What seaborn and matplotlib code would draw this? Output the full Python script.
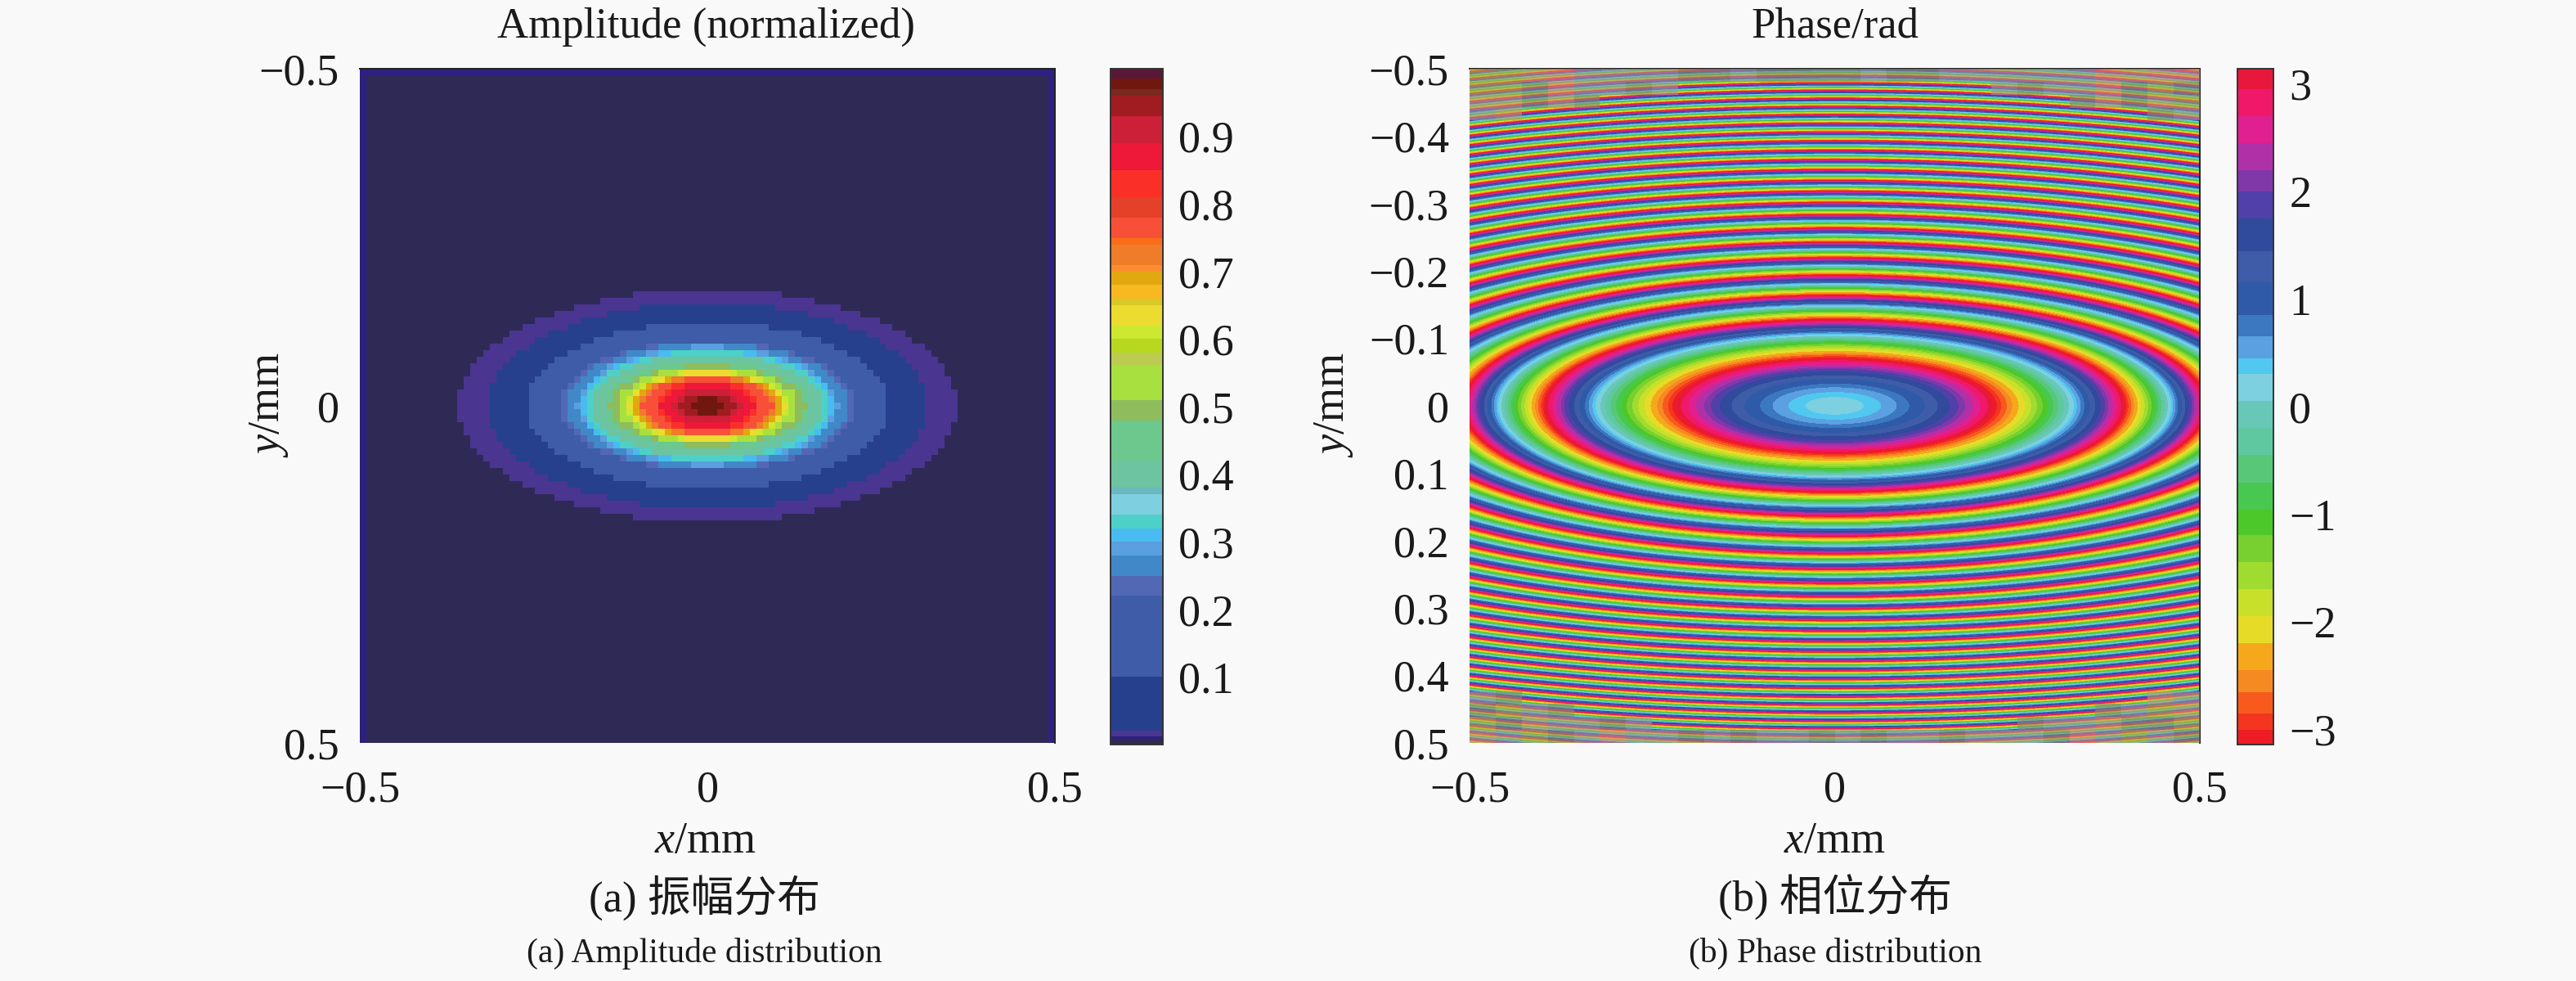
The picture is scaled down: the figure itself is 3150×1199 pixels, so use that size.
#!/usr/bin/env python3
"""Amplitude and phase maps of a focused elliptical beam."""

import matplotlib

matplotlib.use("Agg")

import matplotlib.pyplot as plt
from matplotlib.colors import ListedColormap
import numpy as np
import seaborn as sns

W, H = 3150, 1199
DPI = 200
BACKGROUND = "#F9F9F9"
TEXT = "#1A1A1A"

# contours of the amplitude map, outside to centre
AMP_LEVELS = [0.015, 0.05, 0.15, 0.235, 0.265, 0.29, 0.31, 0.33, 0.40, 0.45, 0.495,
              0.53, 0.61, 0.64, 0.68, 0.73, 0.77, 0.83, 0.87, 0.91, 0.945, 0.985]
AMP_SEMI_X = [0.362, 0.320, 0.263, 0.216, 0.207, 0.189, 0.184, 0.179, 0.169, 0.149, 0.142,
              0.132, 0.122, 0.114, 0.108, 0.102, 0.095, 0.075, 0.067, 0.048, 0.038, 0.019]
AMP_SEMI_Y = [0.174, 0.154, 0.125, 0.096, 0.094, 0.089, 0.085, 0.082, 0.077, 0.067, 0.061,
              0.057, 0.052, 0.051, 0.049, 0.046, 0.042, 0.038, 0.033, 0.028, 0.018, 0.018]
AMP_BACKGROUND = 0.004
AMP_EDGE = 0.010

# y radius (mm, at x = 0) where the phase wraps from +pi to -pi
PHASE_WRAPS = [0.070, 0.128, 0.164, 0.194, 0.220, 0.243, 0.264, 0.284, 0.302, 0.319,
               0.335, 0.351, 0.366, 0.380, 0.394, 0.407, 0.420, 0.433, 0.445, 0.457,
               0.469, 0.480, 0.491, 0.502, 0.512, 0.522, 0.533]
PHASE_CENTRE = 0.2
PHASE_ASPECT = 3.1

# washed-out blocks along the top and bottom edge of the phase map
# 0 none, 1 olive, 2 tan, 3 grey, 4 salmon, 5 grey-green
EDGE_TOP = [
    [1, 1, 2, 4, 3, 3, 3, 3, 5, 5, 3, 5, 5, 5, 5, 3, 5, 5, 3, 3, 3, 3, 3, 3, 4, 2, 4, 4],
    [1, 1, 5, 4, 3, 3, 5, 3, 0, 0, 0, 0, 0, 0, 0, 0, 0, 0, 0, 0, 3, 5, 3, 3, 4, 5, 1, 5],
    [2, 2, 5, 2, 5, 0, 0, 0, 0, 0, 0, 0, 0, 0, 0, 0, 0, 0, 0, 0, 0, 0, 0, 5, 2, 5, 2, 1],
    [3, 2, 0, 0, 0, 0, 0, 0, 0, 0, 0, 0, 0, 0, 0, 0, 0, 0, 0, 0, 0, 0, 0, 0, 0, 0, 5, 3],
]
EDGE_BOTTOM = [
    [3, 5, 0, 0, 0, 0, 0, 0, 0, 0, 0, 0, 0, 0, 0, 0, 0, 0, 0, 0, 0, 0, 0, 0, 0, 0, 2, 3],
    [5, 1, 3, 5, 0, 0, 0, 0, 0, 0, 0, 0, 0, 0, 0, 0, 0, 0, 0, 0, 0, 0, 0, 0, 5, 3, 1, 2],
    [1, 5, 2, 3, 3, 5, 3, 0, 0, 0, 0, 0, 0, 0, 0, 0, 0, 0, 0, 0, 0, 5, 3, 3, 2, 5, 5, 1],
    [2, 3, 1, 5, 3, 4, 3, 3, 5, 3, 5, 3, 3, 5, 3, 5, 3, 3, 5, 3, 3, 3, 5, 4, 3, 1, 3, 5],
]
EDGE_TONES = ["#A8A850", "#C09870", "#9A9A98", "#D88878", "#888C70"]

AXIS_TICKS = [-0.5, 0, 0.5]
PHASE_Y_TICKS = [-0.5, -0.4, -0.3, -0.2, -0.1, 0, 0.1, 0.2, 0.3, 0.4, 0.5]
AXIS_TICK_LABELS = ["\u22120.5", "0", "0.5"]
PHASE_Y_LABELS = ["\u22120.5", "\u22120.4", "\u22120.3", "\u22120.2", "\u22120.1", "0",
                  "0.1", "0.2", "0.3", "0.4", "0.5"]
AMP_CBAR_TICKS = [0.1, 0.2, 0.3, 0.4, 0.5, 0.6, 0.7, 0.8, 0.9]
PHASE_CBAR_TICKS = [-3, -2, -1, 0, 1, 2, 3]

# colour bands of the two colourbars: (upper limit, colour)
AMP_BANDS = [
    (0.008, "#2F2A55"), (0.012, "#2E2080"), (0.02, "#4A3590"), (0.10, "#27408E"),
    (0.22, "#3E5CA8"), (0.25, "#5268B4"), (0.28, "#4088C8"), (0.30, "#5A9FE0"),
    (0.32, "#48BCF0"), (0.34, "#4DD0C8"), (0.37, "#7ECFE0"), (0.38, "#6AB8C0"),
    (0.42, "#6CC4A0"), (0.48, "#6CC88C"), (0.51, "#8FBC5C"), (0.56, "#A8E040"),
    (0.58, "#BCCC50"), (0.60, "#B8D820"), (0.62, "#CCE830"), (0.65, "#ECDC30"),
    (0.66, "#D8C828"), (0.68, "#F8B820"), (0.70, "#E2A810"), (0.71, "#FC8C30"),
    (0.74, "#EE7C28"), (0.75, "#FA6C18"), (0.78, "#F85038"), (0.81, "#E4402A"),
    (0.85, "#FA3028"), (0.89, "#EE1838"), (0.93, "#CC2038"), (0.96, "#A01C20"),
    (0.97, "#7A2820"), (0.985, "#701810"), (1.00, "#5A1838"),
]
PHASE_BANDS = [
    (-3.0, "#EE1C25"), (-2.85, "#F4351F"), (-2.65, "#F85A1E"), (-2.45, "#F68A22"),
    (-2.2, "#F5A81C"), (-1.95, "#E6DC28"), (-1.7, "#C8E02A"), (-1.45, "#A0DC30"),
    (-1.2, "#78D030"), (-0.95, "#4CC82A"), (-0.7, "#48C850"), (-0.45, "#58C878"),
    (-0.2, "#60C8A0"), (0.05, "#68C8B8"), (0.3, "#7CD0E0"), (0.45, "#50C8F0"),
    (0.65, "#5BA0E0"), (0.85, "#3C78C0"), (1.15, "#2F5AA8"), (1.45, "#3F5CA8"),
    (1.75, "#304A9C"), (2.0, "#5040A8"), (2.2, "#8038A8"), (2.45, "#B030A8"),
    (2.7, "#E02090"), (2.95, "#F01868"), (3.1416, "#E8183C"),
]


def band_cmap(bands, vmin, vmax, steps=500):
    """Turn (upper limit, colour) bands into a stepped colormap."""
    limits = [b[0] for b in bands]
    centres = vmin + (np.arange(steps) + 0.5) * (vmax - vmin) / steps
    index = np.minimum(np.searchsorted(limits, centres), len(bands) - 1)
    return ListedColormap([bands[i][1] for i in index])


def amplitude_field(rows=103, cols=107):
    x = np.linspace(-0.5, 0.5, cols)
    y = np.linspace(-0.5, 0.5, rows)
    xx, yy = np.meshgrid(x, y)
    field = np.full(xx.shape, AMP_BACKGROUND)
    for level, a, b in zip(AMP_LEVELS, AMP_SEMI_X, AMP_SEMI_Y):
        field[(xx / a) ** 2 + (yy / b) ** 2 <= 1] = level
    field[0, :] = field[:, 0] = field[:, -1] = AMP_EDGE
    return field


def phase_field(rows=824, cols=893):
    x = np.linspace(-0.5, 0.5, cols)
    y = np.linspace(-0.5, 0.5, rows)
    xx, yy = np.meshgrid(x, y)
    rho2 = (xx / PHASE_ASPECT) ** 2 + yy**2
    wraps2 = np.array(PHASE_WRAPS) ** 2
    ring = np.searchsorted(wraps2, rho2)
    inner = np.concatenate([[0.0], wraps2])[ring]
    outer = wraps2[np.minimum(ring, len(wraps2) - 1)]
    frac = np.clip((rho2 - inner) / (outer - inner), 0, 1)
    phase = -np.pi + 2 * np.pi * frac
    centre = ring == 0
    phase[centre] = PHASE_CENTRE + (np.pi - PHASE_CENTRE) * frac[centre]
    return phase


def px_axes(fig, x0, y0, x1, y1):
    return fig.add_axes([x0 / W, 1 - y1 / H, (x1 - x0) / W, (y1 - y0) / H])


def label_px(fig, x, y, text, size, **kwargs):
    fig.text(x / W, 1 - y / H, text, fontsize=size, ha="center", va="center",
             color=TEXT, **kwargs)


def draw_map(ax, cax, field, cmap, vmin, vmax, cbar_ticks, yticks, ylabels):
    sns.heatmap(field, ax=ax, cbar_ax=cax, cmap=cmap, vmin=vmin, vmax=vmax,
                xticklabels=False, yticklabels=False,
                cbar_kws={"ticks": cbar_ticks})
    rows, cols = field.shape
    ax.set_xticks([(t + 0.5) * cols for t in AXIS_TICKS], labels=AXIS_TICK_LABELS)
    ax.set_yticks([(t + 0.5) * rows for t in yticks], labels=ylabels, rotation=0)
    ax.tick_params(axis="both", length=0, labelsize=19.5, colors=TEXT)
    ax.tick_params(axis="x", pad=12)
    ax.tick_params(axis="y", pad=9)
    for side, spine in ax.spines.items():
        spine.set_visible(side in ("top", "right"))
        spine.set_color("#222222")
        spine.set_linewidth(0.7)
    cbar = ax.collections[0].colorbar
    cbar.outline.set_linewidth(0.7)
    cbar.outline.set_edgecolor("#333333")
    cbar.ax.tick_params(direction="in", length=4, width=0.7, right=True, left=False,
                        labelsize=19.5, pad=7, colors=TEXT)


def draw_edge_noise(fig, box):
    """Lay the washed-out edge blocks over the phase map."""
    blocks = np.zeros((52, 28))
    blocks[:4] = EDGE_TOP
    blocks[-4:] = EDGE_BOTTOM
    ax = px_axes(fig, *box)
    sns.heatmap(blocks, ax=ax, mask=blocks == 0, cmap=ListedColormap(EDGE_TONES),
                vmin=0.5, vmax=5.5, cbar=False, alpha=0.6,
                xticklabels=False, yticklabels=False)
    ax.axis("off")


def main():
    sns.set_style("white")
    plt.rcParams["font.family"] = ["Liberation Serif", "Noto Sans CJK SC", "DejaVu Sans"]
    plt.rcParams["mathtext.fontset"] = "custom"
    plt.rcParams["mathtext.it"] = "Liberation Serif:italic"
    plt.rcParams["mathtext.rm"] = "Liberation Serif"

    fig = plt.figure(figsize=(W / DPI, H / DPI), dpi=DPI, facecolor=BACKGROUND)

    ax_a = px_axes(fig, 440, 84, 1290, 908)
    cax_a = px_axes(fig, 1358, 84, 1422, 910)
    draw_map(ax_a, cax_a, amplitude_field(), band_cmap(AMP_BANDS, 0, 1), 0, 1,
             AMP_CBAR_TICKS, AXIS_TICKS, AXIS_TICK_LABELS)

    phase_box = (1797, 84, 2690, 908)
    ax_b = px_axes(fig, *phase_box)
    cax_b = px_axes(fig, 2736, 84, 2780, 910)
    draw_map(ax_b, cax_b, phase_field(), band_cmap(PHASE_BANDS, -np.pi, np.pi),
             -np.pi, np.pi, PHASE_CBAR_TICKS, PHASE_Y_TICKS, PHASE_Y_LABELS)
    draw_edge_noise(fig, phase_box)

    label_px(fig, 863, 33, "Amplitude (normalized)", 19)
    label_px(fig, 2244, 33, "Phase/rad", 19)
    for x_text, x_label in ((863, 329), (2244, 1631)):
        label_px(fig, x_text, 1029, r"$\mathit{x}$/mm", 19.5)
        label_px(fig, x_label, 495, r"$\mathit{y}$/mm", 19.5, rotation=90)
    label_px(fig, 861, 1097, "(a) 振幅分布", 19)
    label_px(fig, 861, 1165, "(a) Amplitude distribution", 15)
    label_px(fig, 2244, 1097, "(b) 相位分布", 19)
    label_px(fig, 2244, 1165, "(b) Phase distribution", 15)

    fig.savefig("out.png", dpi=DPI, facecolor=BACKGROUND)
    plt.close(fig)


if __name__ == "__main__":
    main()
